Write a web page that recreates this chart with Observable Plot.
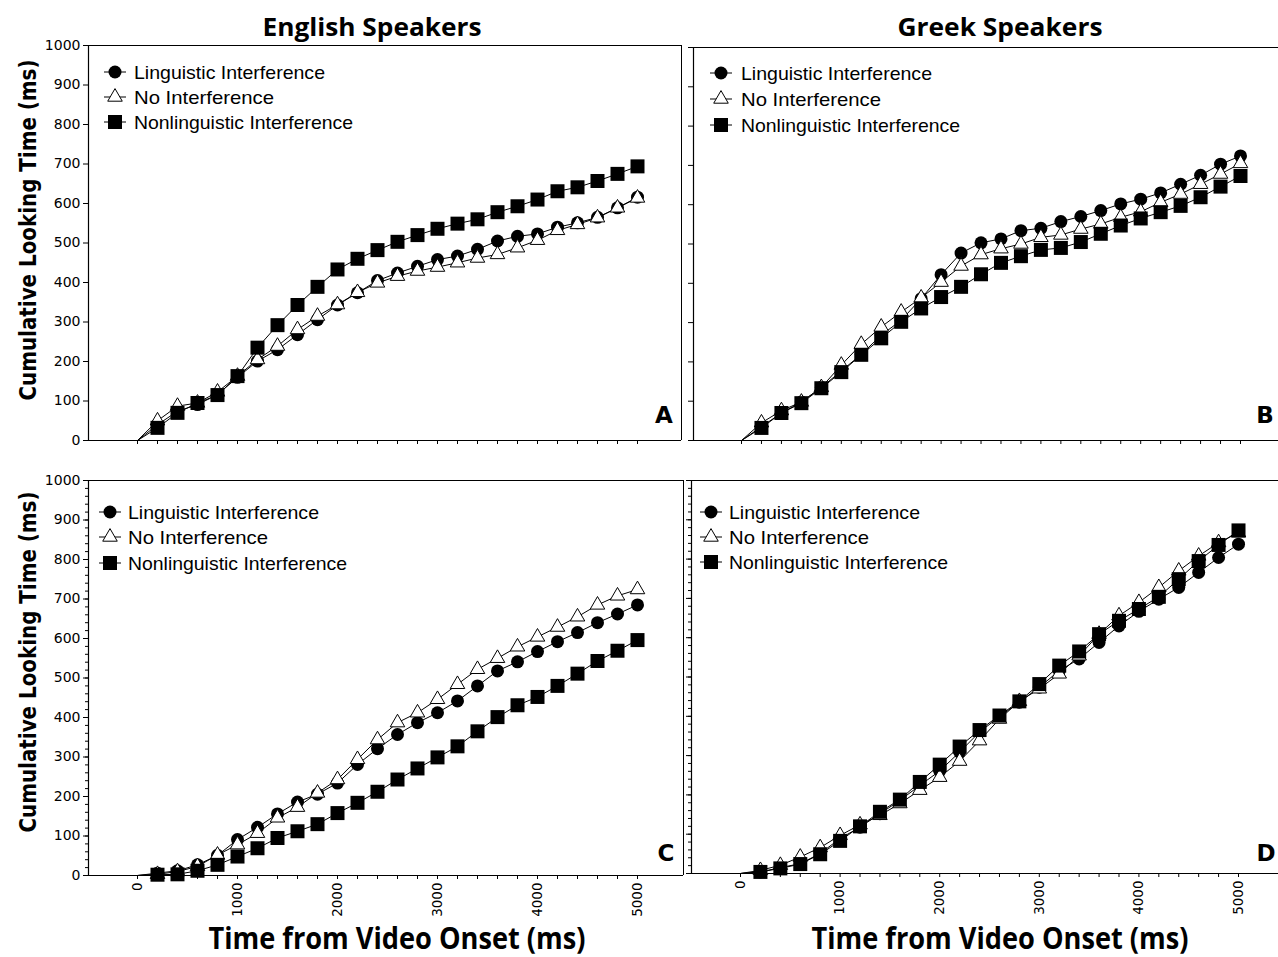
<!DOCTYPE html>
<html><head><meta charset="utf-8">
<script src="https://cdn.jsdelivr.net/npm/d3@7"></script>
<script src="https://cdn.jsdelivr.net/npm/@observablehq/plot@0.6"></script>
<style>
html,body{margin:0;padding:0;background:#fff;overflow:hidden;}
#wrap{position:relative;width:1278px;height:957px;overflow:hidden;background:#fff;}
#wrap svg{position:absolute;left:0;top:0;}
</style></head><body><div id="wrap"></div>
<script>
// ---------- DATA ----------
const times = [0,200,400,600,800,1000,1200,1400,1600,1800,2000,2200,2400,2600,2800,3000,3200,3400,3600,3800,4000,4200,4400,4600,4800,5000];
const seriesNames = ["Linguistic Interference","No Interference","Nonlinguistic Interference"];
const groupTitles = ["English Speakers","Greek Speakers"];
const panelLetters = ["A","B","C","D"];
const yTicks = [0,100,200,300,400,500,600,700,800,900,1000];
const yMinorTicks = [0,20,40,60,80,100,120,140,160,180,200,220,240,260,280,300,320,340,360,380,400,420,440,460,480,500,520,540,560,580,600,620,640,660,680,700,720,740,760,780,800,820,840,860,880,900,920,940,960,980,1000];
const xTickLabels = [0,1000,2000,3000,4000,5000];
const yTitle = "Cumulative Looking Time (ms)";
const xTitle = "Time from Video Onset (ms)";

// Panel A: English speakers (top)
const aLinguistic    = [0,40,74,91,116,160,201,230,268,306,343,374,405,424,441,458,467,484,505,517,523,540,551,565,589,616];
const aNo            = [0,50,87,95,123,163,205,239,281,315,344,375,399,416,429,439,450,462,471,488,507,532,547,564,589,614];
const aNonlinguistic = [0,32,70,95,115,163,235,292,343,389,433,460,482,503,520,536,549,560,578,593,610,631,641,657,675,694];
// Panel B: Greek speakers (top)
const bLinguistic    = [0,35,70,98,135,177,219,268,306,361,422,477,503,513,534,540,557,570,585,602,614,630,652,675,703,724];
const bNo            = [0,45,76,98,135,192,245,289,327,363,403,444,473,488,500,517,523,538,551,568,582,606,627,652,678,705];
const bNonlinguistic = [0,32,70,95,133,174,218,260,302,336,365,391,423,452,469,485,490,505,526,547,565,581,597,619,646,673];
// Panel C: English speakers (bottom)
const cLinguistic    = [0,6,12,27,51,91,122,156,186,206,234,281,321,357,387,412,442,480,518,541,567,592,615,640,662,685];
const cNo            = [0,3,10,23,52,78,107,146,173,209,243,294,344,387,412,446,484,522,550,579,604,629,655,685,708,724];
const cNonlinguistic = [0,2,3,12,27,48,69,95,112,130,158,184,212,243,271,299,327,365,401,431,452,480,511,543,569,596];
// Panel D: Greek speakers (bottom)
const dLinguistic    = [0,4,15,25,51,89,118,152,186,224,261,309,360,399,436,474,516,546,588,630,667,698,728,766,804,838];
const dNo            = [0,8,21,42,66,97,124,148,178,212,245,286,338,393,438,470,508,554,609,656,690,728,770,808,842,867];
const dNonlinguistic = [0,4,13,24,49,83,120,157,188,233,277,323,365,402,438,482,529,565,609,643,673,704,749,795,836,873];

// ---------- STYLE ----------
const symbols = ["circle","triangle","square"];
const radii = [6.5,5.4,7.9];
const fills = ["#000","#fff","#000"];
const strokes = ["none","#000","none"];

const panels = [
  {series:[aLinguistic,aNo,aNonlinguistic], width:1278, mL:88, mR:1278-681, mT:45, mB:957-440, xDomain:[-490,5440], boxed:true, yLabels:true, xLabels:false, minor:false},
  {series:[bLinguistic,bNo,bNonlinguistic], width:1290, mL:693, mR:0, mT:47, mB:957-440, xDomain:[-481,5501], boxed:false, yLabels:false, xLabels:false, minor:false},
  {series:[cLinguistic,cNo,cNonlinguistic], width:1278, mL:88, mR:1278-683, mT:480, mB:957-875, xDomain:[-490,5460], boxed:true, yLabels:true, xLabels:true, minor:true},
  {series:[dLinguistic,dNo,dNonlinguistic], width:1290, mL:691, mR:0, mT:480, mB:957-873, xDomain:[-492,5522], boxed:false, yLabels:false, xLabels:true, minor:true}
];

const wrap = document.getElementById("wrap");

panels.forEach(p => {
  const marks = [];
  marks.push(Plot.ruleY([1000], {stroke:"#000", strokeWidth:1}));
  marks.push(Plot.ruleY([0], {stroke:"#000", strokeWidth:1.2}));
  marks.push(Plot.ruleX([p.xDomain[0]], {stroke:"#000", strokeWidth:1.2}));
  if (p.boxed) marks.push(Plot.ruleX([p.xDomain[1]], {stroke:"#000", strokeWidth:1}));
  if (p.minor) marks.push(Plot.axisY({ticks: yMinorTicks, tickSize:3, tickFormat: () => "", label:null}));
  marks.push(Plot.axisY({ticks: yTicks, tickSize:5, tickPadding:3, label:null, fontSize:14,
    tickFormat: p.yLabels ? (d => String(d)) : (() => "")}));
  marks.push(Plot.axisX({ticks: times, tickSize:4, tickPadding:3, tickRotate:-90, label:null, fontSize:13.5,
    tickFormat: p.xLabels ? (d => xTickLabels.includes(d) ? String(d) : "") : (() => "")}));
  seriesNames.forEach((name, i) => {
    const rows = times.map((t, j) => ({t, v: p.series[i][j], s: name}));
    marks.push(Plot.line(rows, {x:"t", y:"v", stroke:"#000", strokeWidth:1}));
    marks.push(Plot.dot(rows.filter(d => d.t > 0), {x:"t", y:"v", symbol: symbols[i], r: radii[i],
      fill: fills[i], stroke: strokes[i], strokeWidth:1}));
  });
  const svg = Plot.plot({
    width: p.width, height: 957,
    marginLeft: p.mL, marginRight: p.mR, marginTop: p.mT, marginBottom: p.mB,
    x: {domain: p.xDomain},
    y: {domain: [0, 1000]},
    style: {background:"transparent", overflow:"visible", maxWidth:"none", fontFamily:"DejaVu Sans", color:"#000"},
    marks
  });
  wrap.appendChild(svg);
});

// ---------- OVERLAY TEXT / LEGENDS ----------
const ov = d3.create("svg").attr("width", 1278).attr("height", 957)
  .style("font-family", "Liberation Sans, Arial, sans-serif");

// group titles
[[372, groupTitles[0], 219], [1000, groupTitles[1], 205]].forEach(([x, t, len]) => {
  ov.append("text").attr("x", x).attr("y", 36).attr("text-anchor", "middle")
    .attr("font-family", "Open Sans").attr("font-weight", "bold").attr("font-size", 25)
    .attr("textLength", len).attr("lengthAdjust", "spacingAndGlyphs").text(t);
});
// y titles
[230, 662].forEach(cy => {
  ov.append("text").attr("transform", `translate(36,${cy}) rotate(-90)`).attr("text-anchor", "middle")
    .attr("font-family", "DejaVu Sans").attr("font-weight", "bold").attr("font-size", 23)
    .attr("textLength", 341).attr("lengthAdjust", "spacingAndGlyphs").text(yTitle);
});
// x titles
[397, 1000].forEach(cx => {
  ov.append("text").attr("x", cx).attr("y", 949).attr("text-anchor", "middle")
    .attr("font-family", "Open Sans").attr("font-weight", "bold").attr("font-size", 30)
    .attr("textLength", 377).attr("lengthAdjust", "spacingAndGlyphs").text(xTitle);
});
// panel letters
[[664, 423], [1265, 423], [666, 861], [1266, 861]].forEach(([x, y], i) => {
  ov.append("text").attr("x", x).attr("y", y).attr("text-anchor", "middle")
    .attr("font-family", "DejaVu Sans").attr("font-weight", "bold").attr("font-size", 23)
    .text(panelLetters[i]);
});
// legends
const legendPos = [
  {mx:115, tx:134, ys:[72,97,122]},
  {mx:721, tx:741, ys:[73,99,125]},
  {mx:110, tx:128, ys:[512,537,563]},
  {mx:711, tx:729, ys:[512,537,562]}
];
const d3sym = {circle: d3.symbolCircle, triangle: d3.symbolTriangle, square: d3.symbolSquare};
const legendLens = [191, 140, 219];
legendPos.forEach(L => {
  seriesNames.forEach((name, i) => {
    const y = L.ys[i];
    ov.append("line").attr("x1", L.mx - 11).attr("x2", L.mx + 11).attr("y1", y).attr("y2", y)
      .attr("stroke", "#000").attr("stroke-width", 1);
    ov.append("path").attr("transform", `translate(${L.mx},${y})`)
      .attr("d", d3.symbol().type(d3sym[symbols[i]]).size(Math.PI * radii[i] * radii[i])())
      .attr("fill", fills[i]).attr("stroke", strokes[i]).attr("stroke-width", 1);
    ov.append("text").attr("x", L.tx).attr("y", y + 6.5).attr("font-size", 18.5)
      .attr("textLength", legendLens[i]).attr("lengthAdjust", "spacingAndGlyphs").text(name);
  });
});
wrap.appendChild(ov.node());
</script>
</body></html>
